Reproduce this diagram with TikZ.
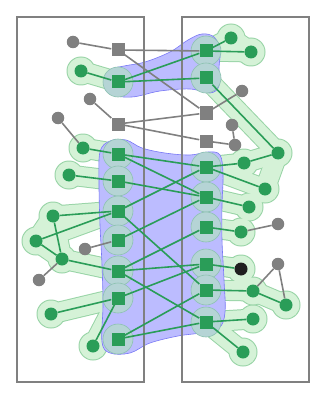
\documentclass[tikz,border=0pt]{standalone}
\usetikzlibrary{positioning}

\definecolor{setgreen}{RGB}{42,157,88}
\definecolor{nodegray}{RGB}{128,128,128}
\definecolor{hullgreen}{RGB}{213,242,215}
\definecolor{hullline}{RGB}{152,212,166}
\definecolor{setblue}{RGB}{188,188,255}
\definecolor{blueline}{RGB}{120,120,245}
\definecolor{halofill}{RGB}{181,212,213}
\definecolor{haloline}{RGB}{140,194,176}

\pgfdeclarelayer{hullrim}
\pgfdeclarelayer{hullfill}
\pgfdeclarelayer{blueset}
\pgfdeclarelayer{halos}
\pgfsetlayers{hullrim,hullfill,blueset,halos,main}

\begin{document}
\begin{tikzpicture}[
  x=1pt,y=-1pt,
  inbox/.style={fill=setgreen,minimum size=13pt,inner sep=0pt},
  outbox/.style={fill=nodegray,minimum size=13pt,inner sep=0pt},
  indot/.style={circle,fill=setgreen,minimum size=13pt,inner sep=0pt},
  outdot/.style={circle,fill=nodegray,minimum size=12.5pt,inner sep=0pt},
  hitdot/.style={circle,fill=black!88,minimum size=13pt,inner sep=0pt},
  inlink/.style={setgreen,line width=1.6pt},
  outlink/.style={nodegray,line width=1.6pt},
  frame/.style={nodegray,line width=1.6pt},
  rimstroke/.style={hullline,line width=21pt,line cap=round},
  fillstroke/.style={hullgreen,line width=19pt,line cap=round},
  blueregion/.style={fill=setblue,draw=blueline,line width=.6pt},
  haloring/.style={fill=halofill,draw=haloline,line width=.6pt}
]
  \useasboundingbox (0,0) rectangle (327,401);

  % the two sets
  \draw[frame] (17,17) rectangle (144,382);
  \draw[frame] (182,17) rectangle (309,382);

  % left column
  \node[outbox] (a1) at (118,50) {};
  \node[inbox] (a2) at (118,82) {};
  \node[outbox] (a3) at (118,124) {};
  \node[inbox] (a4) at (118,154) {};
  \node[inbox] (a5) at (118,181) {};
  \node[inbox] (a6) at (118,211) {};
  \node[inbox] (a7) at (118,240) {};
  \node[inbox] (a8) at (118,271) {};
  \node[inbox] (a9) at (118,298) {};
  \node[inbox] (a10) at (118,339) {};

  % right column
  \node[inbox] (b1) at (206,51) {};
  \node[inbox] (b2) at (206,78) {};
  \node[outbox] (b3) at (206,113) {};
  \node[outbox] (b4) at (206,141) {};
  \node[inbox] (b5) at (206,167) {};
  \node[inbox] (b6) at (206,197) {};
  \node[inbox] (b7) at (206,227) {};
  \node[inbox] (b8) at (206,264) {};
  \node[inbox] (b9) at (206,290) {};
  \node[inbox] (b10) at (206,322) {};

  % gray dots
  \node[outdot] (g1) at (73,42) {};
  \node[outdot] (g2) at (90,99) {};
  \node[outdot] (g3) at (58,118) {};
  \node[outdot] (g4) at (242,91) {};
  \node[outdot] (g5) at (232,125) {};
  \node[outdot] (g6) at (235,145) {};
  \node[outdot] (g7) at (278,224) {};
  \node[outdot] (g8) at (85,249) {};
  \node[outdot] (g9) at (278,264) {};
  \node[outdot] (g10) at (39,280) {};
  \node[hitdot] (k) at (241,269) {};

  % green dots
  \node[indot] (d1) at (231,38) {};
  \node[indot] (d2) at (251,52) {};
  \node[indot] (d3) at (81,71) {};
  \node[indot] (d4) at (83,148) {};
  \node[indot] (d5) at (278,153) {};
  \node[indot] (d6) at (244,163) {};
  \node[indot] (d7) at (69,175) {};
  \node[indot] (d8) at (265,189) {};
  \node[indot] (d9) at (53,216) {};
  \node[indot] (d10) at (249,207) {};
  \node[indot] (d11) at (36,241) {};
  \node[indot] (d12) at (241,232) {};
  \node[indot] (d13) at (62,259) {};
  \node[indot] (d14) at (253,291) {};
  \node[indot] (d15) at (286,305) {};
  \node[indot] (d16) at (51,314) {};
  \node[indot] (d17) at (253,319) {};
  \node[indot] (d18) at (93,346) {};
  \node[indot] (d19) at (243,352) {};

  % green hulls
  \def\hulllinks{b1/d1,b1/d2,d1/d2,d3/a2,b2/d5,d5/d6,d5/d8,b5/d6,b5/d8,
    d4/a4,d7/a5,a6/d9,a6/d11,d9/d11,d9/d13,d11/d13,d13/a8,b6/d10,b7/d12,
    b8/k,b9/d14,d14/d15,a9/d16,a9/d18,b10/d17,b10/d19}
  \def\hulldots{d1,d2,d3,d4,d5,d6,d7,d8,d9,d10,d11,d12,d13,d14,d15,
    d16,d17,d18,d19,k}
  \begin{pgfonlayer}{hullrim}
    \foreach \u/\v in \hulllinks \draw[rimstroke] (\u.center) -- (\v.center);
    \foreach \n in \hulldots \fill[hullline] (\n.center) circle (14.5pt);
  \end{pgfonlayer}
  \begin{pgfonlayer}{hullfill}
    \foreach \u/\v in \hulllinks \draw[fillstroke] (\u.center) -- (\v.center);
    \foreach \n in \hulldots \fill[hullgreen] (\n.center) circle (13.5pt);
  \end{pgfonlayer}

  % blue hulls
  \begin{pgfonlayer}{blueset}
    \draw[blueregion] plot[smooth cycle,tension=.6] coordinates {
      (104,82) (110,70) (124,66) (145,62) (170,52) (188,40) (202,34)
      (214,37) (220,50) (219,68) (219,86) (210,93) (190,89) (160,91)
      (132,97) (110,94)};
    \draw[blueregion] plot[smooth cycle,tension=.6] coordinates {
      (100,152) (110,141) (126,140) (142,148) (165,153) (190,155)
      (208,152) (220,155) (223,175) (222,205) (222,240) (224,280)
      (225,312) (219,328) (200,333) (178,336) (150,343) (130,353)
      (110,353) (102,342) (103,305) (102,265) (100,225) (99,185)};
  \end{pgfonlayer}
  \begin{pgfonlayer}{halos}
    \foreach \n in {a2,a4,a5,a6,a7,a8,a9,a10,b1,b2,b5,b6,b7,b8,b9,b10}
      \draw[haloring] (\n.center) circle (15pt);
  \end{pgfonlayer}

  % gray links
  \draw[outlink] (g1) -- (a1);
  \draw[outlink] (a1) -- (b1);
  \draw[outlink] (a1) -- (b3);
  \draw[outlink] (a3) -- (g2);
  \draw[outlink] (a3) -- (b3);
  \draw[outlink] (a3) -- (b4);
  \draw[outlink] (b3) -- (g4);
  \draw[outlink] (b4) -- (g6);
  \draw[outlink] (g5) -- (g6);
  \draw[outlink] (g3) -- (d4);
  \draw[outlink] (g8) -- (a7);
  \draw[outlink] (g10) -- (d13);
  \draw[outlink] (g7) -- (d12);
  \draw[outlink] (g9) -- (d14);
  \draw[outlink] (g9) -- (d15);

  % green links
  \foreach \u/\v in {b1/d1,b1/d2,d3/a2,a2/b1,a2/b2,b2/d5,d5/d6,b5/d6,
    b5/d8,d4/a4,a4/b5,a4/b6,d7/a5,a5/b6,a6/d9,a6/d11,d9/d13,d11/d13,
    d13/a8,a6/b5,a6/b9,a7/b6,a8/b7,a8/b8,a8/b10,b6/d10,b7/d12,b8/k,
    b9/d14,d14/d15,a9/b8,a9/d16,a9/d18,a10/b9,a10/b10,b10/d17,b10/d19}
    \draw[inlink] (\u) -- (\v);
\end{tikzpicture}
\end{document}
